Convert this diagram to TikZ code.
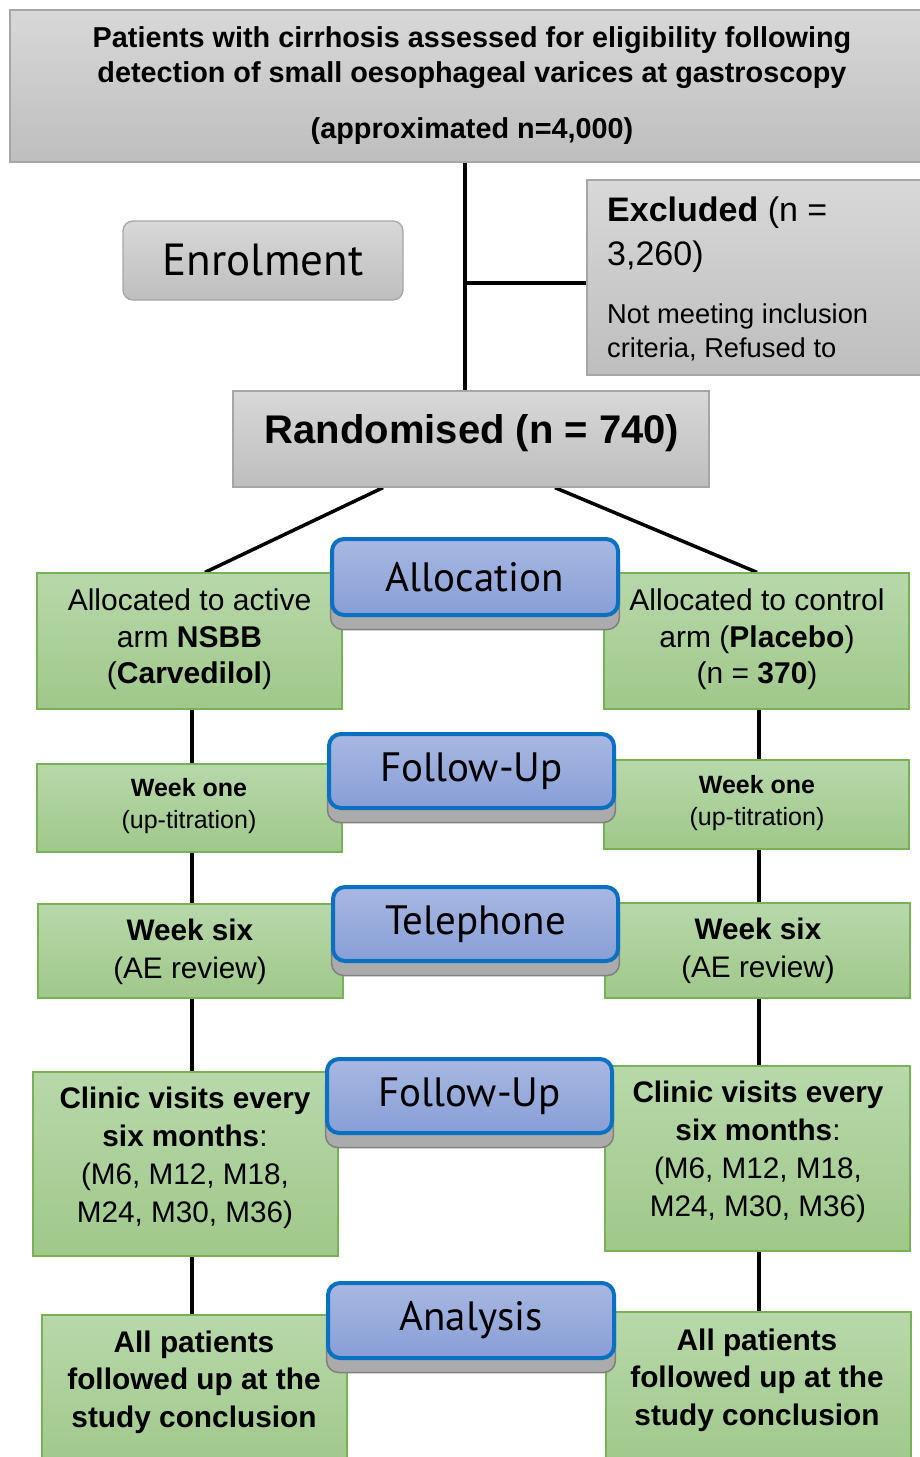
\documentclass[tikz,border=0pt]{standalone}
\usepackage{fontspec}
\setmainfont{Liberation Sans}
\newfontfamily\blfont{PT Sans}
\usetikzlibrary{calc,shadows,backgrounds}
\definecolor{grayline}{HTML}{A6A6A6}
\definecolor{graytop}{HTML}{D8D8D8}
\definecolor{graybot}{HTML}{BEBEBE}
\definecolor{greenline}{HTML}{77B255}
\definecolor{greentop}{HTML}{B8D8AA}
\definecolor{greenbot}{HTML}{9FC88A}
\definecolor{blueline}{HTML}{0A70C2}
\definecolor{bluetop}{HTML}{A9B8E2}
\definecolor{bluebot}{HTML}{879ED6}
\tikzset{
  grayb/.style={draw=grayline, line width=1.3pt, top color=graytop, bottom color=graybot, inner sep=0pt},
  greenb/.style={draw=greenline, line width=1.3pt, top color=greentop, bottom color=greenbot, inner sep=0pt},
  blueb/.style={draw=blueline, line width=4pt, rounded corners=12pt, top color=bluetop, bottom color=bluebot,
    inner sep=0pt, font=\blfont\fontsize{41}{48}\selectfont,
    drop shadow={shadow xshift=0pt, shadow yshift=-14pt, shadow scale=1.01, fill=black!33, draw=black!50, line width=1.5pt, opacity=1}},
  conn/.style={line width=3.5pt, black},
  txt/.style={align=center, inner sep=0pt},
  tbig/.style={txt, font=\fontsize{28.8}{35}\selectfont\bfseries},
  tg30/.style={txt, font=\fontsize{30}{36.5}\selectfont},
  tg25/.style={txt, font=\fontsize{25}{32}\selectfont},
  tg29/.style={txt, font=\fontsize{29.7}{38}\selectfont},
  tgb/.style={txt, font=\fontsize{29.8}{37.5}\selectfont\bfseries},
}
\begin{document}
\begin{tikzpicture}[x=1pt,y=-1pt]
\useasboundingbox (0,0) rectangle (920,1457);

% gray boxes
\node[grayb, minimum width=924pt, minimum height=152pt] (top) at (472,86) {};
\node[tbig] (topt1) at (472,57.5) {Patients with cirrhosis assessed for eligibility following\\detection of small oesophageal varices at gastroscopy};
\node[tbig] (topt2) at (472,131) {(approximated n=4,000)};

\node[grayb, minimum width=348pt, minimum height=195pt] (excl) at (761,277.5) {};
\node[anchor=north west, align=left, inner sep=0pt, font=\fontsize{34}{44}\selectfont] (exclt1) at (607,196.5) {\textbf{Excluded} (n =\\3,260)};
\node[anchor=north west, align=left, inner sep=0pt, font=\fontsize{27.3}{34}\selectfont] (exclt2) at (607,303.5) {Not meeting inclusion\\criteria, Refused to};

\node[grayb, rounded corners=10pt, minimum width=280pt, minimum height=79pt, font=\blfont\fontsize{45}{50}\selectfont] (enrol) at (263,260.5) {Enrolment};

\node[grayb, minimum width=476pt, minimum height=96pt] (rand) at (471,439) {};
\node[txt, font=\fontsize{40}{48}\selectfont\bfseries] (randt) at (472,433) {Randomised (n = 740)};

% green boxes left
\node[greenb, minimum width=305pt, minimum height=136pt] (l1) at (189.5,641) {};
\node[greenb, minimum width=305pt, minimum height=88pt] (l2) at (189.5,808) {};
\node[greenb, minimum width=305pt, minimum height=94pt] (l3) at (190.5,951) {};
\node[greenb, minimum width=305pt, minimum height=184pt] (l4) at (185.5,1164) {};
\node[greenb, minimum width=305pt, minimum height=155pt] (l5) at (194.5,1392.5) {};
% green boxes right
\node[greenb, minimum width=305pt, minimum height=136pt] (r1) at (756.5,641) {};
\node[greenb, minimum width=305pt, minimum height=89pt] (r2) at (756.5,804.5) {};
\node[greenb, minimum width=305pt, minimum height=95pt] (r3) at (757.5,950.5) {};
\node[greenb, minimum width=305pt, minimum height=185pt] (r4) at (757.5,1158.5) {};
\node[greenb, minimum width=305pt, minimum height=158pt] (r5) at (758.5,1391) {};

% green texts
\node[tg30] (l1t) at (189.5,639.5) {Allocated to active\\arm \textbf{NSBB}\\(\textbf{Carvedilol})};
\node[tg30] (r1t) at (757,639.5) {Allocated to control\\arm (\textbf{Placebo})\\(n = \textbf{370})};
\node[tg25] (l2t) at (189,806) {\textbf{Week one}\\(up-titration)};
\node[tg25] (r2t) at (757,803) {\textbf{Week one}\\(up-titration)};
\node[tg29] (l3t) at (190,952) {\textbf{Week six}\\(AE review)};
\node[tg29] (r3t) at (758,951) {\textbf{Week six}\\(AE review)};
\node[tg29] (l4t) at (185,1157.5) {\textbf{Clinic visits every}\\\textbf{six months}:\\(M6, M12, M18,\\M24, M30, M36)};
\node[tg29] (r4t) at (758,1152) {\textbf{Clinic visits every}\\\textbf{six months}:\\(M6, M12, M18,\\M24, M30, M36)};
\node[tgb] (l5t) at (194,1382) {All patients\\followed up at the\\study conclusion};
\node[tgb] (r5t) at (757,1380) {All patients\\followed up at the\\study conclusion};

% blue boxes
\node[blueb, minimum width=286pt, minimum height=76pt] (alloc) at (475,577) {Allocation};
\node[blueb, minimum width=285pt, minimum height=74pt] (fu1) at (471.5,771) {Follow-Up};
\node[blueb, minimum width=285pt, minimum height=74pt] (tel) at (475.5,924) {Telephone};
\node[blueb, minimum width=285pt, minimum height=74pt] (fu2) at (469.5,1096) {Follow-Up};
\node[blueb, minimum width=286pt, minimum height=75pt] (ana) at (471,1320.5) {Analysis};

% connectors
\coordinate (xt) at (465,0);
\coordinate (j) at (465,283);
\coordinate (xl) at (192,0);
\coordinate (xr) at (759,0);
\begin{scope}[on background layer]
\fill[white] (0,0) rectangle (920,1457);
\draw[conn] (top.south -| xt) -- (rand.north -| xt);
\draw[conn] (j) -- (j -| excl.west);
\draw[conn] ($(rand.south)+(-88,0)$) -- ($(l1.north)+(15.5,0)$);
\draw[conn] ($(rand.south)+(84,0)$) -- ($(r1.north)+(0.5,0)$);
\draw[conn] (l1.south -| xl) -- (l2.north -| xl);
\draw[conn] (l2.south -| xl) -- (l3.north -| xl);
\draw[conn] (l3.south -| xl) -- (l4.north -| xl);
\draw[conn] (l4.south -| xl) -- (l5.north -| xl);
\draw[conn] (r1.south -| xr) -- (r2.north -| xr);
\draw[conn] (r2.south -| xr) -- (r3.north -| xr);
\draw[conn] (r3.south -| xr) -- (r4.north -| xr);
\draw[conn] (r4.south -| xr) -- (r5.north -| xr);
\end{scope}
\end{tikzpicture}
\end{document}
